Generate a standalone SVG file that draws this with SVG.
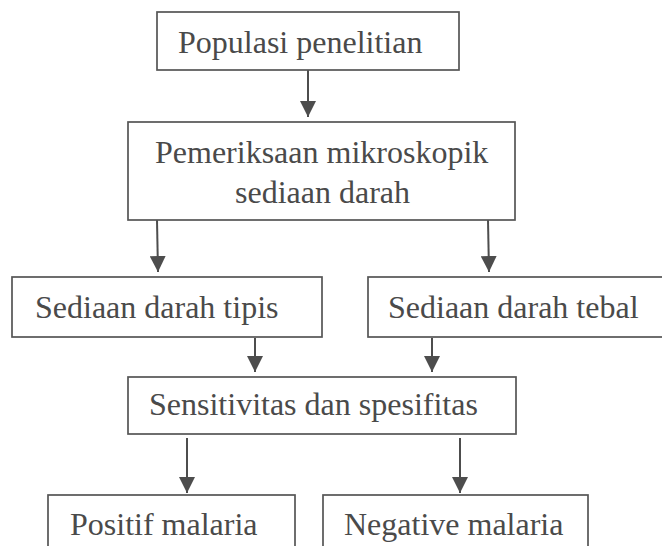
<svg xmlns="http://www.w3.org/2000/svg" width="662" height="546" viewBox="0 0 662 546">
<style>
.box{fill:#fff;stroke:#555;stroke-width:1.7}
.t{font-family:"Liberation Serif","Times New Roman",serif;font-size:32px;fill:#4a4a4a}
.c{stroke:#4d4d4d;stroke-width:2;fill:none}
</style>
<defs>
<marker id="ah" markerUnits="userSpaceOnUse" markerWidth="16" markerHeight="16" refX="16" refY="8" orient="auto" viewBox="0 0 16 16">
<path d="M0,0 L16,8 L0,16 z" fill="#4d4d4d"/>
</marker>
</defs>
<rect width="662" height="546" fill="#fff"/>
<g id="connectors">
<line class="c" x1="308" y1="70" x2="308" y2="117" marker-end="url(#ah)"/>
<line class="c" x1="157" y1="220" x2="158" y2="272" marker-end="url(#ah)"/>
<line class="c" x1="488" y1="220" x2="489" y2="272" marker-end="url(#ah)"/>
<line class="c" x1="255" y1="338" x2="255" y2="372" marker-end="url(#ah)"/>
<line class="c" x1="432" y1="338" x2="432" y2="372" marker-end="url(#ah)"/>
<line class="c" x1="187" y1="438" x2="187" y2="493" marker-end="url(#ah)"/>
<line class="c" x1="460" y1="438" x2="460" y2="493" marker-end="url(#ah)"/>
</g>
<g id="n1">
<rect class="box" x="157" y="12" width="302" height="58"/>
<text class="t" x="178" y="53">Populasi penelitian</text>
</g>
<g id="n2">
<rect class="box" x="128" y="122" width="387" height="98"/>
<text class="t" x="155" y="163">Pemeriksaan mikroskopik</text>
<text class="t" x="235" y="203">sediaan darah</text>
</g>
<g id="n3">
<rect class="box" x="12" y="277" width="310" height="60"/>
<text class="t" x="35" y="318">Sediaan darah tipis</text>
</g>
<g id="n4">
<rect class="box" x="368" y="277" width="310" height="60"/>
<text class="t" x="388" y="318">Sediaan darah tebal</text>
</g>
<g id="n5">
<rect class="box" x="128" y="377" width="388" height="57"/>
<text class="t" x="149" y="415">Sensitivitas dan spesifitas</text>
</g>
<g id="n6">
<rect class="box" x="48" y="495" width="247" height="70"/>
<text class="t" x="70" y="535">Positif malaria</text>
</g>
<g id="n7">
<rect class="box" x="323" y="495" width="265" height="70"/>
<text class="t" x="344" y="535">Negative malaria</text>
</g>
</svg>
